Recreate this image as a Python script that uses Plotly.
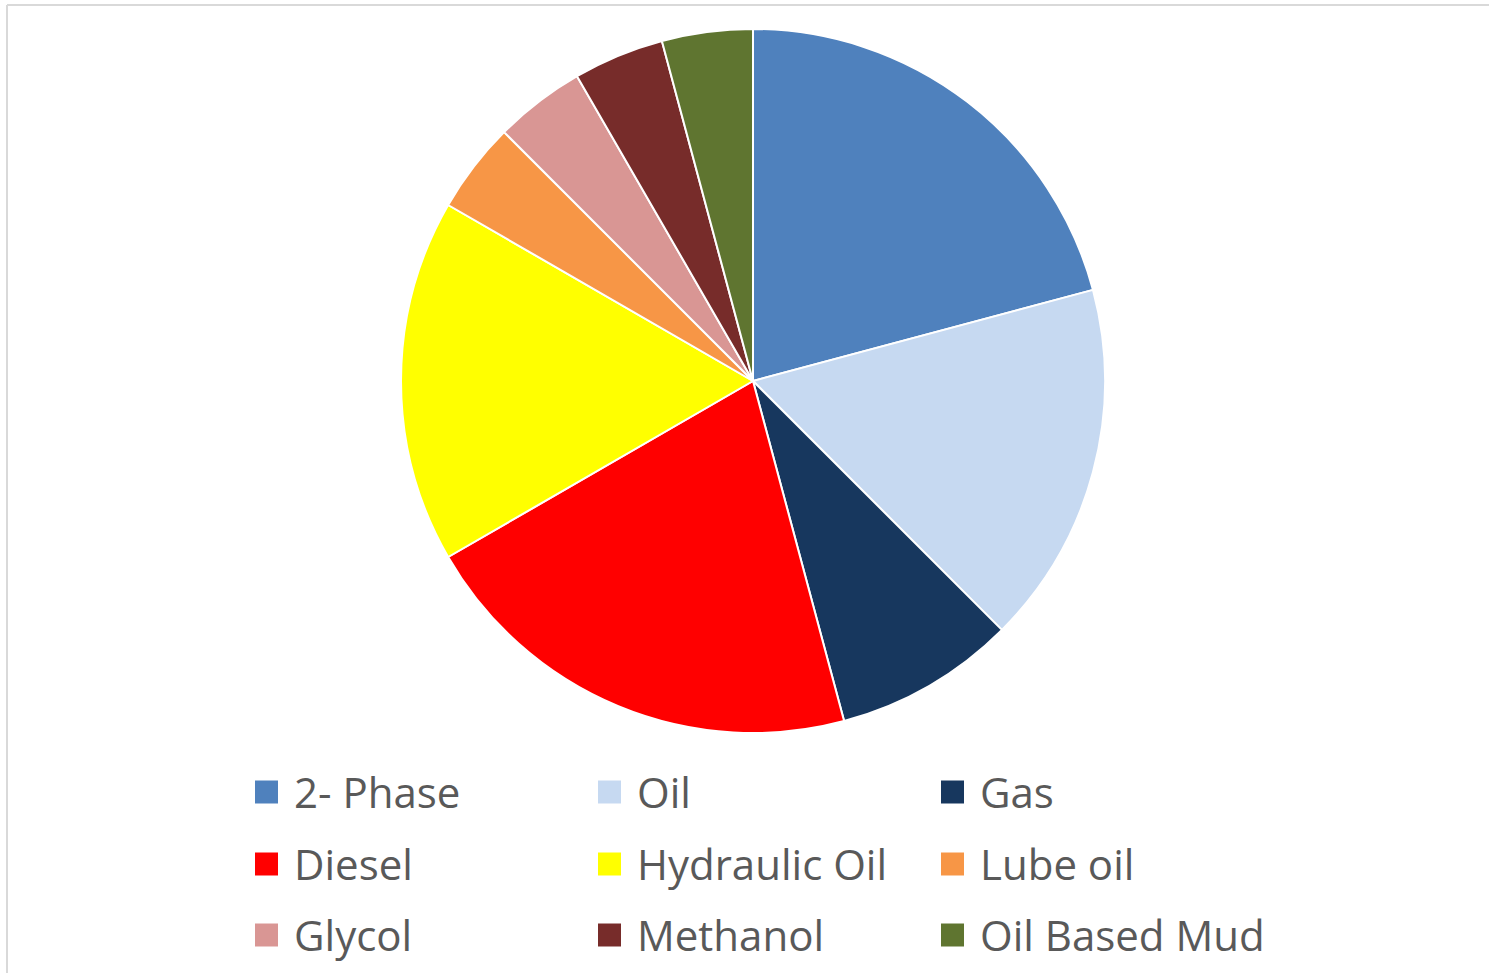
import plotly.graph_objects as go

labels = ["2- Phase", "Oil", "Gas", "Diesel", "Hydraulic Oil", "Lube oil", "Glycol", "Methanol", "Oil Based Mud"]
values = [5, 4, 2, 5, 4, 1, 1, 1, 1]
colors = ["#4F81BD", "#C6D9F1", "#17375E", "#FF0000", "#FFFF00", "#F79646", "#D99694", "#772C2A", "#5F7530"]

W, H = 1489, 973
cx, cy, r = 753, 381, 352

fig = go.Figure(go.Pie(
    labels=labels, values=values, sort=False, direction="clockwise", rotation=0,
    marker=dict(colors=colors, line=dict(color="white", width=2)),
    textinfo="none", hoverinfo="label+value+percent", showlegend=False,
    domain=dict(x=[(cx - r) / W, (cx + r) / W], y=[1 - (cy + r) / H, 1 - (cy - r) / H]),
))

shapes = [
    dict(type="line", xref="paper", yref="paper", x0=7 / W, x1=7 / W, y0=0, y1=1 - 5 / H,
         line=dict(color="#D9D9D9", width=2)),
    dict(type="line", xref="paper", yref="paper", x0=7 / W, x1=1, y0=1 - 5 / H, y1=1 - 5 / H,
         line=dict(color="#D9D9D9", width=2)),
]
annotations = []
col_x = [255, 598, 941]
row_y = [792, 864, 935]
sq = 23
for i, (lab, col) in enumerate(zip(labels, colors)):
    x0 = col_x[i % 3]
    yc = row_y[i // 3]
    shapes.append(dict(type="rect", xref="paper", yref="paper",
                       x0=x0 / W, x1=(x0 + sq) / W,
                       y0=1 - (yc + sq / 2) / H, y1=1 - (yc - sq / 2) / H,
                       fillcolor=col, line=dict(width=0)))
    annotations.append(dict(text=lab, xref="paper", yref="paper",
                            x=(x0 + 37) / W, y=1 - (yc - 1) / H,
                            xanchor="left", yanchor="middle", showarrow=False,
                            font=dict(family="Open Sans", size=42, color="#595959")))

fig.update_layout(
    width=W, height=H, margin=dict(l=0, r=0, t=0, b=0),
    paper_bgcolor="white", plot_bgcolor="white",
    shapes=shapes, annotations=annotations,
)
fig.write_html("out.html", config={"displayModeBar": False},
               post_script="document.body.style.margin='0';document.body.style.overflow='hidden';")
